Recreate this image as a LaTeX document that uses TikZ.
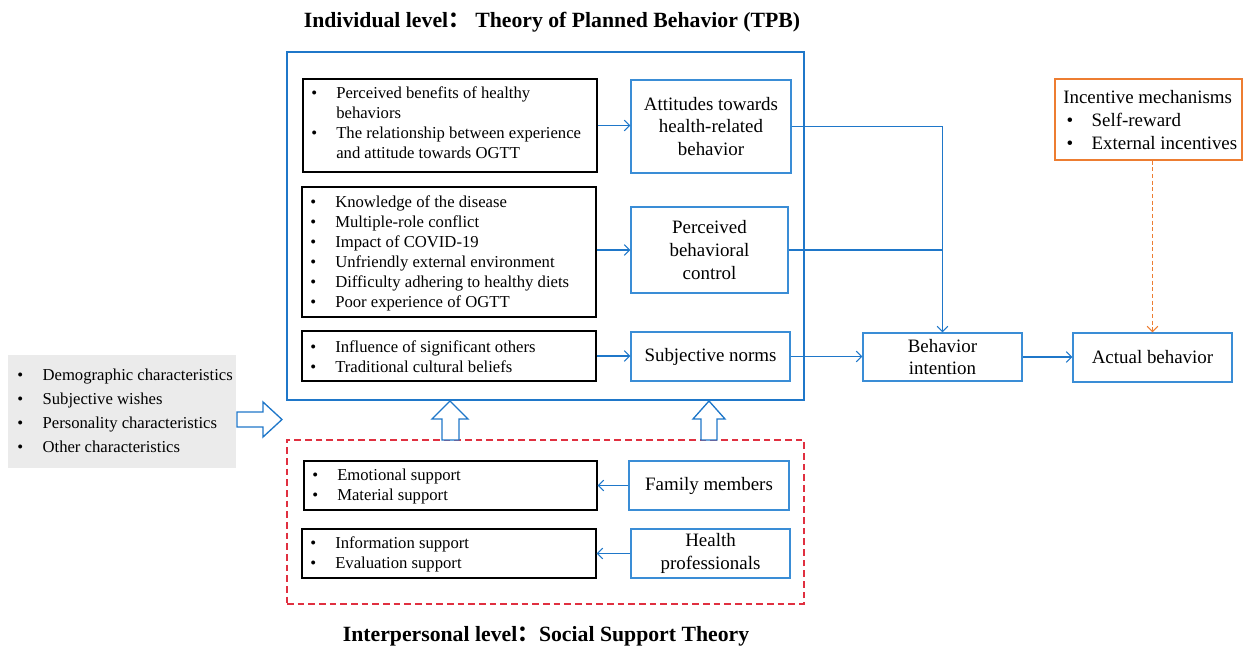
\documentclass[tikz,border=0pt]{standalone}
\usepackage{fontspec}
\setmainfont{Liberation Serif}
\newfontfamily\cjk{Noto Sans CJK SC}
\usetikzlibrary{fit,arrows.meta}
\definecolor{tpbblue}{HTML}{1F77C9}
\definecolor{lblue}{HTML}{3A8DD6}
\definecolor{incorange}{HTML}{ED7D31}
\definecolor{ssred}{HTML}{E03040}
\definecolor{lgray}{HTML}{EBEBEB}
\newcommand{\bu}{\makebox[18.75pt][l]{•}}
\newcommand{\ind}{\hspace*{18.75pt}}
\tikzset{
  blk/.style={draw=black, line width=1pt, inner sep=0pt},
  bbox/.style={draw=lblue, line width=1.1pt, inner sep=0pt},
  listtext/.style={font=\fontsize{12.5}{15}\selectfont, align=left, inner sep=0pt, anchor=west},
  lbl/.style={font=\fontsize{14.2}{17}\selectfont, align=center, inner sep=0pt},
  conn/.style={draw=tpbblue, line width=0.8pt},
  tip/.style={-{Straight Barb[length=4pt,width=8pt]}},
  hollow/.style={draw=tpbblue, line width=1pt, fill=white, line join=miter},
  ttl/.style={font=\fontsize{16.3}{19}\selectfont\bfseries, inner sep=0pt}
}
\begin{document}
\begin{tikzpicture}[x=0.75pt,y=-0.75pt]
\useasboundingbox (0,0) rectangle (1243,646);

% titles
\node[ttl] (t1) at (552,22) {Individual level{\cjk ：} Theory of Planned Behavior (TPB)};
\node[ttl] (t2) at (546,636) {Interpersonal level{\cjk ：}Social Support Theory};

% outer frames
\node[draw=tpbblue, line width=1.5pt, inner sep=0pt, fit={(287,52) (804,400)}] (tpb) {};
\node[draw=ssred, line width=1.1pt, dashed, dash pattern=on 5pt off 3pt, inner sep=0pt, fit={(287,440) (804,604)}] (ss) {};

% left gray box
\node[fill=lgray, inner sep=0pt, fit={(8,355) (236,468)}] (demo) {};
\node[listtext, font=\fontsize{12.5}{18}\selectfont] (demot) at (17,411) {\makebox[19pt][l]{•}Demographic characteristics\\ \makebox[19pt][l]{•}Subjective wishes\\ \makebox[19pt][l]{•}Personality characteristics\\ \makebox[19pt][l]{•}Other characteristics};

% black list boxes (TPB)
\node[blk, fit={(303,79) (597,172)}] (b1) {};
\node[listtext] (b1t) at (311,123) {\bu Perceived benefits of healthy\\ \ind behaviors\\ \bu The relationship between experience\\ \ind and attitude towards OGTT};
\node[blk, fit={(302,187) (596,317)}] (b2) {};
\node[listtext] (b2t) at (310,253) {\bu Knowledge of the disease\\ \bu Multiple-role conflict\\ \bu Impact of COVID-19\\ \bu Unfriendly external environment\\ \bu Difficulty adhering to healthy diets\\ \bu Poor experience of OGTT};
\node[blk, fit={(302,331) (596,381)}] (b3) {};
\node[listtext] (b3t) at (310,357) {\bu Influence of significant others\\ \bu Traditional cultural beliefs};

% blue construct boxes
\node[bbox, fit={(631,80) (791,173)}] (att) {};
\node[lbl] at (att.center) {Attitudes towards\\ health-related\\ behavior};
\node[bbox, fit={(631,207) (788,293)}] (pbc) {};
\node[lbl] at (pbc.center) {Perceived\\ behavioral\\ control};
\node[bbox, fit={(631,332) (790,381)}] (sn) {};
\node[lbl] at (sn.center) {Subjective norms};

\node[bbox, fit={(863,333) (1022,381)}] (bi) {};
\node[lbl, font=\fontsize{14.2}{16.5}\selectfont] at (bi.center) {Behavior\\ intention};
\node[bbox, fit={(1073,333) (1232,382)}] (act) {};
\node[lbl] at (act.center) {Actual behavior};

\node[draw=incorange, line width=1.1pt, inner sep=0pt, fit={(1055,79) (1242,160)}] (inc) {};
\node[listtext, font=\fontsize{14.2}{17}\selectfont] (inct) at (1063,120) {Incentive mechanisms\\ \hspace*{2.5pt}\makebox[18.75pt][l]{•}Self-reward\\ \hspace*{2.5pt}\makebox[18.75pt][l]{•}External incentives};

% social support boxes
\node[blk, fit={(304,461) (597,510)}] (b4) {};
\node[listtext] (b4t) at (312,486) {\bu Emotional support\\ \bu Material support};
\node[blk, fit={(302,529) (596,578)}] (b5) {};
\node[listtext] (b5t) at (310,554) {\bu Information support\\ \bu Evaluation support};
\node[bbox, fit={(629,461) (789,510)}] (fam) {};
\node[lbl] at (fam.center) {Family members};
\node[bbox, fit={(631,529) (790,578)}] (hp) {};
\node[lbl] at (hp.center) {Health\\ professionals};

% connectors
\draw[conn, tip] (b1.east) -- (b1.east -| att.west);
\draw[conn, tip] (pbc.west -| b2.east) -- (pbc.west);
\draw[conn, tip] (b3.east) -- (b3.east -| sn.west);
\draw[conn, tip] (att.east) -- (att.east -| bi.north) -- (bi.north);
\draw[conn] (pbc.east) -- (pbc.east -| bi.north);
\draw[conn, tip] (sn.east) -- (sn.east -| bi.west);
\draw[conn, tip] (bi.east) -- (bi.east -| act.west);
\draw[draw=incorange, line width=0.8pt, dashed, dash pattern=on 3pt off 2pt, tip] (act.north |- inc.south) -- (act.north);
\draw[conn, tip] (fam.west) -- (fam.west -| b4.east);
\draw[conn, tip] (hp.west) -- (hp.west -| b5.east);

% hollow block arrows
\draw[hollow] (237,412) -- (263,412) -- (263,402) -- (282,419.5) -- (263,437) -- (263,427) -- (237,427) -- cycle;
\draw[hollow] (442,440) -- (442,419) -- (432,419) -- (450,401) -- (468,419) -- (459,419) -- (459,440) -- cycle;
\draw[hollow] (701,440) -- (701,419) -- (693,419) -- (709,401) -- (725,419) -- (717,419) -- (717,440) -- cycle;
\end{tikzpicture}
\end{document}
